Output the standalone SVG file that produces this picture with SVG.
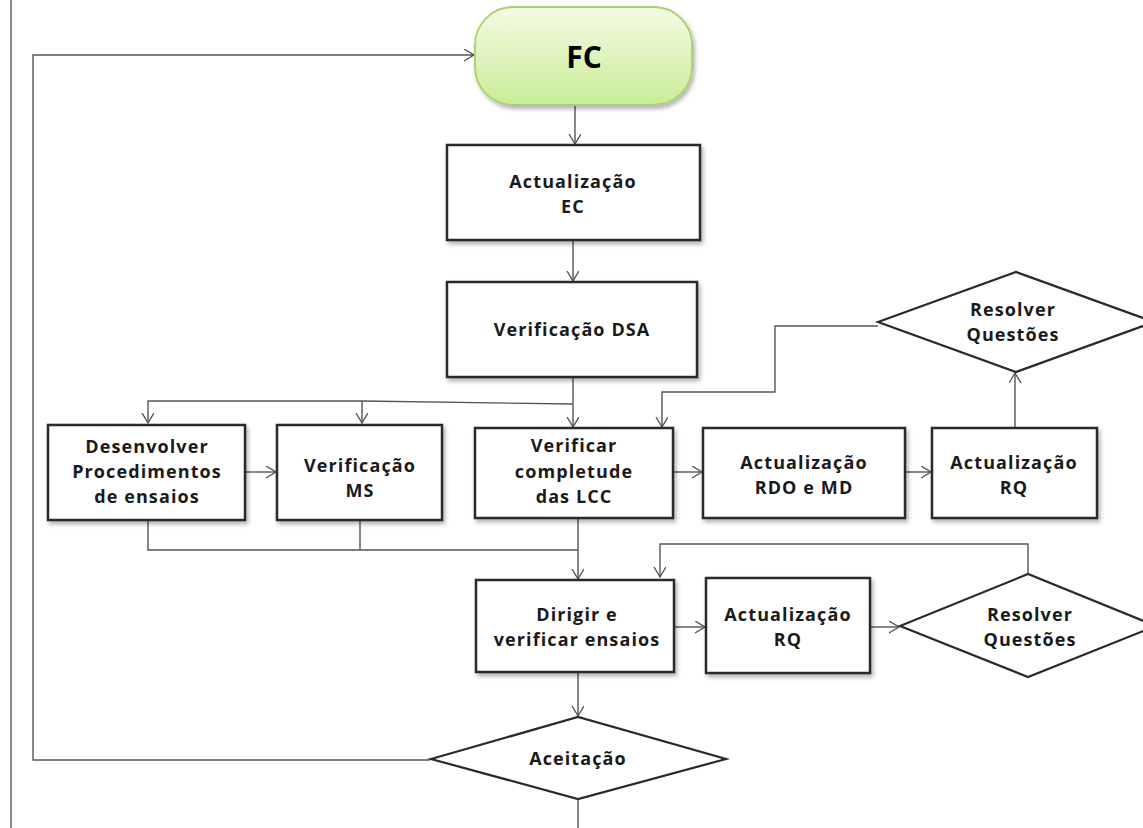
<svg xmlns="http://www.w3.org/2000/svg" width="1143" height="828" viewBox="0 0 1143 828">
<style>
.box{fill:#fff;stroke:#2a2a2a;stroke-width:2.5;filter:url(#sh)}
.dia{fill:#fff;stroke:#2a2a2a;stroke-width:2.2}
.c{fill:none;stroke:#555;stroke-width:1.4}
.t{font-family:"Open Sans","Liberation Sans",sans-serif;font-weight:bold;font-size:18px;fill:#1a1a1a;text-anchor:middle;letter-spacing:1.1px}
</style>
<defs>
<marker id="a" markerUnits="userSpaceOnUse" markerWidth="14" markerHeight="14" refX="10" refY="6" orient="auto"><path d="M0,0 L10,6 L0,12" fill="none" stroke="#555" stroke-width="1.4"/></marker>
<linearGradient id="g" x1="0" y1="0" x2="0" y2="1"><stop offset="0" stop-color="#f4fbe4"/><stop offset="1" stop-color="#c9ec96"/></linearGradient>
<filter id="sh" x="-10%" y="-10%" width="125%" height="130%"><feDropShadow dx="2" dy="3" stdDeviation="2" flood-color="#000" flood-opacity="0.3"/></filter>
</defs>
<rect width="1143" height="828" fill="#fff"/>
<line x1="11" y1="0" x2="11" y2="828" stroke="#666" stroke-width="1.5"/>
<g id="connectors">
<path class="c" d="M430,760 H33 V55 H474" marker-end="url(#a)"/>
<path class="c" d="M575,105 V144" marker-end="url(#a)"/>
<path class="c" d="M573,240 V281" marker-end="url(#a)"/>
<path class="c" d="M573,377 V427" marker-end="url(#a)"/>
<path class="c" d="M573,404 L362,401 H148 V423" marker-end="url(#a)"/>
<path class="c" d="M362,401 V423" marker-end="url(#a)"/>
<path class="c" d="M245,472 H276" marker-end="url(#a)"/>
<path class="c" d="M673,472 H702" marker-end="url(#a)"/>
<path class="c" d="M905,472 H931" marker-end="url(#a)"/>
<path class="c" d="M1015,428 V373" marker-end="url(#a)"/>
<path class="c" d="M878,326 H775 V392 H662 V427" marker-end="url(#a)"/>
<path class="c" d="M148,520 V550 H578"/>
<path class="c" d="M360,520 V550"/>
<path class="c" d="M578,518 V579" marker-end="url(#a)"/>
<path class="c" d="M1028,573 V544 H660 V577" marker-end="url(#a)"/>
<path class="c" d="M673,627 H705" marker-end="url(#a)"/>
<path class="c" d="M870,627 H899" marker-end="url(#a)"/>
<path class="c" d="M578,672 V716" marker-end="url(#a)"/>
<path class="c" d="M578,799 V828"/>
</g>
<g id="fc">
<rect x="475" y="7" width="217" height="98" rx="38" ry="38" fill="url(#g)" stroke="#a6d16c" stroke-width="1.8" filter="url(#sh)"/>
<text x="584" y="68" class="t" style="font-size:30px;letter-spacing:0;fill:#000">FC</text>
</g>
<g id="ec">
<rect class="box" x="447" y="145" width="253" height="95"/>
<text class="t" x="573" y="188">Actualização</text>
<text class="t" x="573" y="213">EC</text>
</g>
<g id="dsa">
<rect class="box" x="447" y="282" width="250" height="95"/>
<text class="t" x="572" y="336">Verificação DSA</text>
</g>
<g id="desenvolver">
<rect class="box" x="48" y="425" width="197" height="95"/>
<text class="t" x="147" y="453">Desenvolver</text>
<text class="t" x="147" y="478">Procedimentos</text>
<text class="t" x="147" y="503">de ensaios</text>
</g>
<g id="ms">
<rect class="box" x="277" y="425" width="165" height="95"/>
<text class="t" x="360" y="472">Verificação</text>
<text class="t" x="360" y="497">MS</text>
</g>
<g id="verificar">
<rect class="box" x="475" y="428" width="198" height="90"/>
<text class="t" x="574" y="452">Verificar</text>
<text class="t" x="574" y="478">completude</text>
<text class="t" x="574" y="503">das LCC</text>
</g>
<g id="rdo">
<rect class="box" x="703" y="428" width="202" height="90"/>
<text class="t" x="804" y="469">Actualização</text>
<text class="t" x="804" y="494">RDO e MD</text>
</g>
<g id="rq1">
<rect class="box" x="932" y="428" width="165" height="90"/>
<text class="t" x="1014" y="469">Actualização</text>
<text class="t" x="1014" y="494">RQ</text>
</g>
<g id="resolver1">
<polygon class="dia" points="878,322 1016,272 1154,322 1016,372"/>
<text class="t" x="1013" y="316">Resolver</text>
<text class="t" x="1013" y="341">Questões</text>
</g>
<g id="dirigir">
<rect class="box" x="476" y="580" width="198" height="92"/>
<text class="t" x="577" y="621">Dirigir e</text>
<text class="t" x="577" y="646">verificar ensaios</text>
</g>
<g id="rq2">
<rect class="box" x="706" y="578" width="164" height="95"/>
<text class="t" x="788" y="621">Actualização</text>
<text class="t" x="788" y="646">RQ</text>
</g>
<g id="resolver2">
<polygon class="dia" points="900,626 1028,574 1156,626 1028,677"/>
<text class="t" x="1030" y="621">Resolver</text>
<text class="t" x="1030" y="646">Questões</text>
</g>
<g id="aceitacao">
<polygon class="dia" points="431,759 578,717 726,759 578,799"/>
<text class="t" x="578" y="765">Aceitação</text>
</g>
</svg>
